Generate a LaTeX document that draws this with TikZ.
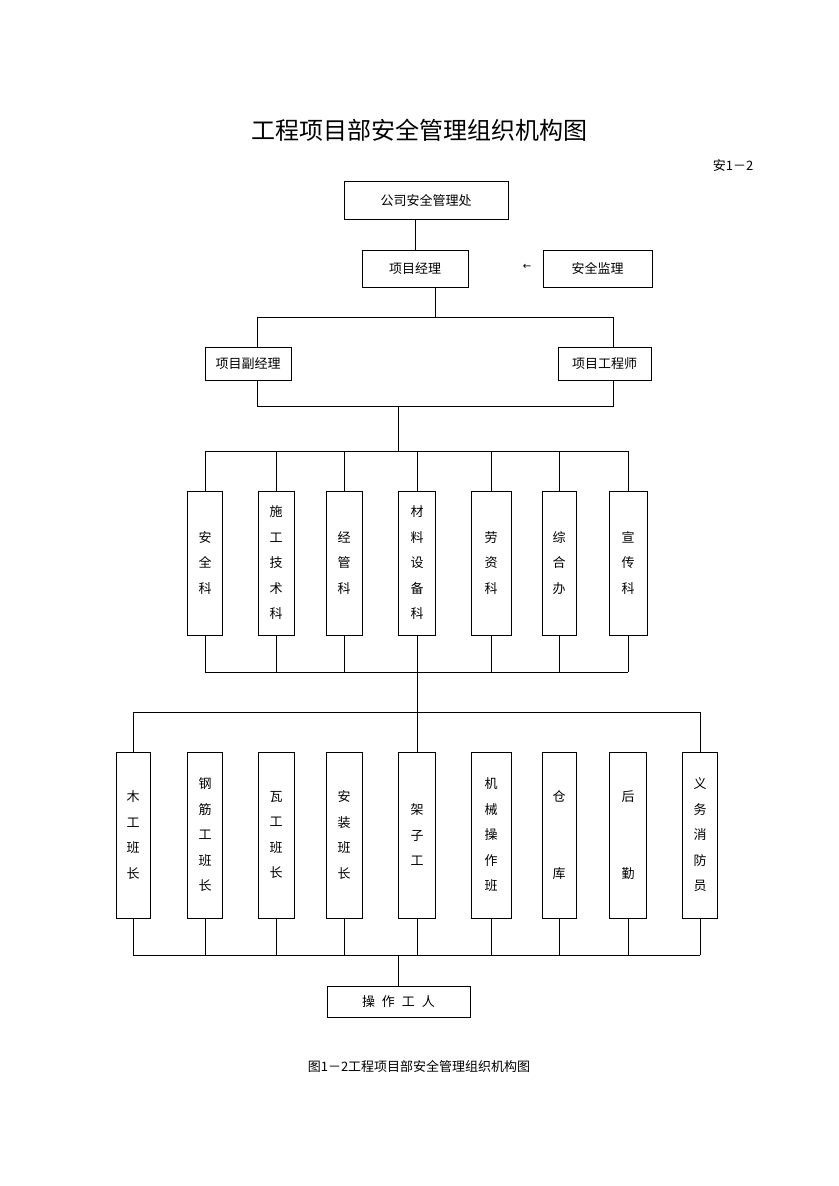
\documentclass[tikz,border=0pt]{standalone}
\usepackage{fontspec}
\setmainfont{Noto Sans CJK SC}
\newfontfamily\symfont{DejaVu Sans}
\begin{document}
\begin{tikzpicture}[x=1pt,y=-1pt,line width=0.9pt,
  hbox/.style={draw,inner sep=0pt,font=\fontsize{13}{16}\selectfont},
  vbox/.style={draw,inner sep=0pt,align=center,font=\fontsize{13}{25.5}\selectfont},
  rowtwo/.style={vbox,minimum height=144},
  rowthree/.style={vbox,minimum height=166}]
\useasboundingbox[fill=white] (0,0) rectangle (838,1186);

\node (title) at (419,130) {\fontsize{24}{28}\selectfont 工程项目部安全管理组织机构图};
\node (code) at (733,166) {\fontsize{13}{16}\selectfont 安1－2};

\node[hbox,minimum width=164,minimum height=38] (gs) at (426,200) {公司安全管理处};
\node[hbox,minimum width=106,minimum height=37] (pm) at (415,268.5) {项目经理};
\node[hbox,minimum width=109,minimum height=37] (sv) at (597.5,268.5) {安全监理};
\node (arr) at (527,267) {\symfont\fontsize{10}{12}\selectfont ←};
\node[hbox,minimum width=86,minimum height=33] (dpm) at (248,363.5) {项目副经理};
\node[hbox,minimum width=93,minimum height=33] (pe) at (604.5,363.5) {项目工程师};

% row two
\node[rowtwo,minimum width=35] (k1) at (205,563) {安\\全\\科};
\node[rowtwo,minimum width=36] (k2) at (276,563) {施\\工\\技\\术\\科};
\node[rowtwo,minimum width=36] (k3) at (344,563) {经\\管\\科};
\node[rowtwo,minimum width=37] (k4) at (417,563) {材\\料\\设\\备\\科};
\node[rowtwo,minimum width=40] (k5) at (491,563) {劳\\资\\科};
\node[rowtwo,minimum width=34] (k6) at (559,563) {综\\合\\办};
\node[rowtwo,minimum width=38] (k7) at (628,563) {宣\\传\\科};

% row three
\node[rowthree,minimum width=34] (t1) at (133,835) {木\\工\\班\\长};
\node[rowthree,minimum width=35] (t2) at (205,835) {钢\\筋\\工\\班\\长};
\node[rowthree,minimum width=36] (t3) at (276,835) {瓦\\工\\班\\长};
\node[rowthree,minimum width=36] (t4) at (344,835) {安\\装\\班\\长};
\node[rowthree,minimum width=37] (t5) at (417,835) {架\\子\\工};
\node[rowthree,minimum width=40] (t6) at (491,835) {机\\械\\操\\作\\班};
\node[rowthree,minimum width=34] (t7) at (559,835) {仓\\~\\~\\库};
\node[rowthree,minimum width=37] (t8) at (628,835) {后\\~\\~\\勤};
\node[rowthree,minimum width=35] (t9) at (700,835) {义\\务\\消\\防\\员};

\node[hbox,minimum width=143,minimum height=31] (wk) at (398.5,1001.5) {操\hspace{7pt}作\hspace{7pt}工\hspace{7pt}人};

\node (cap) at (419,1066) {\fontsize{13}{16}\selectfont 图1－2工程项目部安全管理组织机构图};

% connectors
\draw (pm.north) -- (pm.north |- gs.south);
\coordinate (a0) at (435,317);
\coordinate (a1) at (257,317);
\coordinate (a2) at (613,317);
\draw (pm.south -| a0) -- (a0);
\draw (dpm.north -| a1) -- (a1) -- (a2) -- (pe.north -| a2);
\coordinate (b1) at (257,406);
\coordinate (b2) at (613,406);
\coordinate (b0) at (398,406);
\coordinate (c0) at (398,451);
\draw (dpm.south -| b1) -- (b1) -- (b2) -- (pe.south -| b2);
\draw (b0) -- (c0);
\draw (k1.north |- c0) -- (k7.north |- c0);
\coordinate (d0) at (417,672);
\foreach \k in {k1,k2,k3,k4,k5,k6,k7} {
  \draw (\k.north) -- (\k.north |- c0);
  \draw (\k.south) -- (\k.south |- d0);
}
\draw (k1.south |- d0) -- (k7.south |- d0);
\coordinate (e0) at (417,712);
\draw (k4.south |- d0) -- (t5.north);
\draw (t1.north) -- (t1.north |- e0) -- (t9.north |- e0) -- (t9.north);
\coordinate (f0) at (398,955);
\foreach \t in {t1,t2,t3,t4,t5,t6,t7,t8,t9} {
  \draw (\t.south) -- (\t.south |- f0);
}
\draw (t1.south |- f0) -- (t9.south |- f0);
\draw (wk.north) -- (wk.north |- f0);
\end{tikzpicture}
\end{document}
